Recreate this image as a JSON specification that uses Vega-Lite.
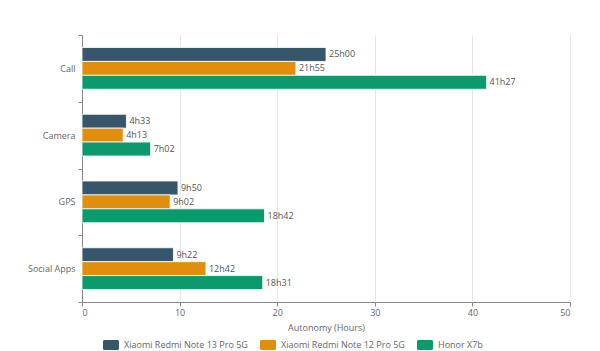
{
  "$schema": "https://vega.github.io/schema/vega-lite/v6.json",
  "autosize": {"type": "none"},
  "padding": {"left": 82, "top": 35, "right": 30, "bottom": 49},
  "width": 488,
  "height": 267,
  "background": "white",
  "config": {
    "font": "Open Sans",
    "view": {"stroke": null},
    "axis": {"labelColor": "#666", "titleColor": "#666", "labelFontSize": 9, "titleFontSize": 9, "titleFontWeight": "normal"}
  },
  "data": {
    "values": [
      {"activity": "Call", "series": "Xiaomi Redmi Note 13 Pro 5G", "hours": 25.0, "label": "25h00"},
      {"activity": "Call", "series": "Xiaomi Redmi Note 12 Pro 5G", "hours": 21.917, "label": "21h55"},
      {"activity": "Call", "series": "Honor X7b", "hours": 41.45, "label": "41h27"},
      {"activity": "Camera", "series": "Xiaomi Redmi Note 13 Pro 5G", "hours": 4.55, "label": "4h33"},
      {"activity": "Camera", "series": "Xiaomi Redmi Note 12 Pro 5G", "hours": 4.217, "label": "4h13"},
      {"activity": "Camera", "series": "Honor X7b", "hours": 7.033, "label": "7h02"},
      {"activity": "GPS", "series": "Xiaomi Redmi Note 13 Pro 5G", "hours": 9.833, "label": "9h50"},
      {"activity": "GPS", "series": "Xiaomi Redmi Note 12 Pro 5G", "hours": 9.033, "label": "9h02"},
      {"activity": "GPS", "series": "Honor X7b", "hours": 18.7, "label": "18h42"},
      {"activity": "Social Apps", "series": "Xiaomi Redmi Note 13 Pro 5G", "hours": 9.367, "label": "9h22"},
      {"activity": "Social Apps", "series": "Xiaomi Redmi Note 12 Pro 5G", "hours": 12.7, "label": "12h42"},
      {"activity": "Social Apps", "series": "Honor X7b", "hours": 18.517, "label": "18h31"}
    ]
  },
  "encoding": {
    "y": {
      "field": "activity", "type": "nominal", "sort": ["Call", "Camera", "GPS", "Social Apps"],
      "scale": {"paddingInner": 0, "paddingOuter": 0},
      "axis": {"title": null, "tickBand": "extent", "domainColor": "#888", "tickColor": "#888", "tickSize": 4, "labelPadding": 3, "grid": false}
    },
    "yOffset": {
      "field": "series", "type": "nominal",
      "sort": ["Xiaomi Redmi Note 13 Pro 5G", "Xiaomi Redmi Note 12 Pro 5G", "Honor X7b"],
      "scale": {"paddingInner": 0, "paddingOuter": 0.9}
    },
    "x": {
      "field": "hours", "type": "quantitative",
      "scale": {"domain": [0, 50]},
      "axis": {"title": "Autonomy (Hours)", "values": [0, 10, 20, 30, 40, 50], "gridColor": "#e6e6e6", "domainColor": "#888", "tickColor": "#888", "tickSize": 4, "titlePadding": 6, "labelPadding": 2}
    }
  },
  "layer": [
    {
      "mark": {"type": "bar", "stroke": "white", "strokeWidth": 0.8},
      "encoding": {
        "color": {
          "field": "series", "type": "nominal",
          "scale": {"domain": ["Xiaomi Redmi Note 13 Pro 5G", "Xiaomi Redmi Note 12 Pro 5G", "Honor X7b"], "range": ["#36566b", "#e08e0b", "#0a9a6e"]},
          "legend": {
            "title": null, "orient": "none", "direction": "horizontal", "legendX": 24, "legendY": 305,
            "symbolType": "M-1.3,-1H1.3A0.3,0.3 0 0 1 1.6,-0.7V0.7A0.3,0.3 0 0 1 1.3,1H-1.3A0.3,0.3 0 0 1 -1.6,0.7V-0.7A0.3,0.3 0 0 1 -1.3,-1Z",
            "symbolSize": 100, "symbolStrokeWidth": 0, "symbolOpacity": 1,
            "labelFontSize": 9, "labelColor": "#666", "columnPadding": 12, "labelOffset": 8
          }
        }
      }
    },
    {
      "mark": {"type": "text", "align": "left", "baseline": "middle", "dx": 3, "fontSize": 9, "color": "#555"},
      "encoding": {"text": {"field": "label"}}
    }
  ]
}
